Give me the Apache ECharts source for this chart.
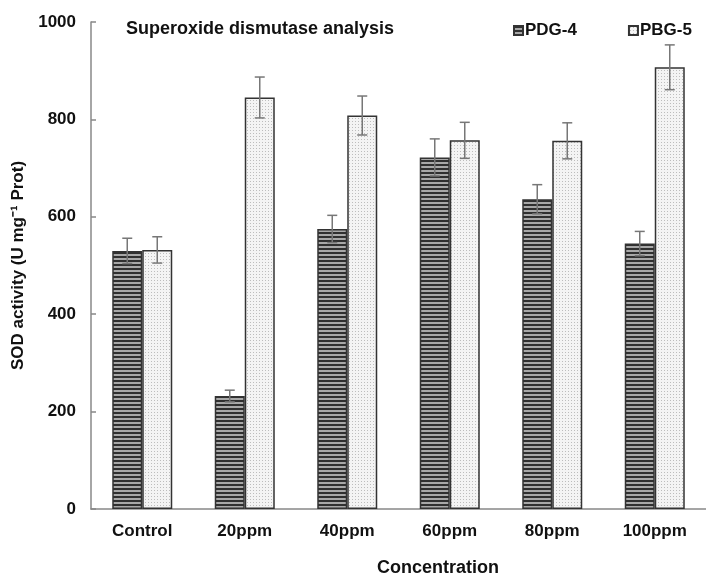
<!DOCTYPE html>
<html><head><meta charset="utf-8">
<script src="https://cdn.jsdelivr.net/npm/echarts@6/dist/echarts.min.js"></script>
<style>html,body{margin:0;padding:0;background:#fff}#c{width:706px;height:575px}</style>
</head><body><div id="c"></div>
<script>
const categories = ['Control','20ppm','40ppm','60ppm','80ppm','100ppm'];
const pdg4 = [530, 232, 575, 722, 636, 545];
const pdg4Err = [26, 12, 28, 38, 30, 25];
const pbg5 = [532, 845, 808, 757, 756, 907];
const pbg5Err = [27, 42, 40, 37, 37, 46];
const yTicks = [0, 200, 400, 600, 800, 1000];

function stripePattern(){
  const c = document.createElement('canvas'); c.width = 4; c.height = 4;
  const g = c.getContext('2d');
  g.fillStyle = '#a8a8a8'; g.fillRect(0,0,4,4);
  g.fillStyle = '#303030'; g.fillRect(0,0,4,2);
  return c;
}
function dotPattern(){
  const c = document.createElement('canvas'); c.width = 3; c.height = 3;
  const g = c.getContext('2d');
  g.fillStyle = '#f4f4f4'; g.fillRect(0,0,3,3);
  g.fillStyle = '#bdbdbd'; g.fillRect(1,1,1,1);
  return c;
}
const stripe = {image: stripePattern(), repeat: 'repeat'};
const dots = {image: dotPattern(), repeat: 'repeat'};

function errSeries(name, vals, errs, offset){
  return {
    name: name, type: 'custom', z: 10, silent: true,
    data: vals.map((v,i)=>[i, v - errs[i], v + errs[i]]),
    renderItem: function(params, api){
      const lo = api.coord([api.value(0), api.value(1)]);
      const hi = api.coord([api.value(0), api.value(2)]);
      const x = lo[0] + offset;
      const cap = 5;
      const st = {stroke: '#777', lineWidth: 1.5};
      return {type: 'group', children: [
        {type:'line', shape:{x1:x,y1:lo[1],x2:x,y2:hi[1]}, style: st},
        {type:'line', shape:{x1:x-cap,y1:lo[1],x2:x+cap,y2:lo[1]}, style: st},
        {type:'line', shape:{x1:x-cap,y1:hi[1],x2:x+cap,y2:hi[1]}, style: st}
      ]};
    }
  };
}

const chart = echarts.init(document.getElementById('c'));
const font = 'Liberation Sans, Arial, sans-serif';
chart.setOption({
  animation: false,
  textStyle: {fontFamily: font},
  grid: {left: 91, top: 22, bottom: 66, width: 618},
  title: {text: 'Superoxide dismutase analysis', left: 121, top: 15,
    textStyle: {fontSize: 18, fontWeight: 'bold', color: '#111', fontFamily: font}},
  legend: {data: ['PDG-4','PBG-5'], left: 508, top: 17, itemGap: 51,
    itemWidth: 9, itemHeight: 9, icon: 'rect',
    textStyle: {fontSize: 17, fontWeight: 'bold', color: '#111', fontFamily: font, padding: [0,0,0,-3]}},
  xAxis: {type: 'category', data: categories,
    axisLine: {lineStyle: {color: '#888', width: 1.5}},
    axisTick: {show: false},
    axisLabel: {fontSize: 17, fontWeight: 'bold', color: '#111', margin: 14, fontFamily: font}},
  yAxis: {type: 'value', min: 0, max: 1000, interval: 200,
    name: 'SOD activity (U mg\u207B\u00B9 Prot)', nameLocation: 'middle', nameGap: 62,
    nameTextStyle: {fontSize: 17, fontWeight: 'bold', color: '#111', fontFamily: font},
    axisLine: {show: true, lineStyle: {color: '#888', width: 1.5}},
    axisTick: {show: true, inside: true, length: 5, lineStyle: {color: '#888', width: 1.5}},
    splitLine: {show: false},
    axisLabel: {fontSize: 17, fontWeight: 'bold', color: '#111', margin: 15, fontFamily: font,
      formatter: v => String(v), customValues: yTicks}},
  graphic: [{type: 'text', left: 377, top: 559,
    style: {text: 'Concentration', font: 'bold 18px Liberation Sans, Arial, sans-serif', fill: '#111'}}],
  series: [
    {name: 'PDG-4', type: 'bar', data: pdg4, barWidth: 30, barGap: '0%',
      itemStyle: {color: stripe, borderColor: '#333', borderWidth: 1.5}},
    {name: 'PBG-5', type: 'bar', data: pbg5, barWidth: 30, barGap: '0%',
      itemStyle: {color: dots, borderColor: '#333', borderWidth: 1.5}},
    errSeries('e1', pdg4, pdg4Err, -15),
    errSeries('e2', pbg5, pbg5Err, 15)
  ]
});
</script></body></html>
